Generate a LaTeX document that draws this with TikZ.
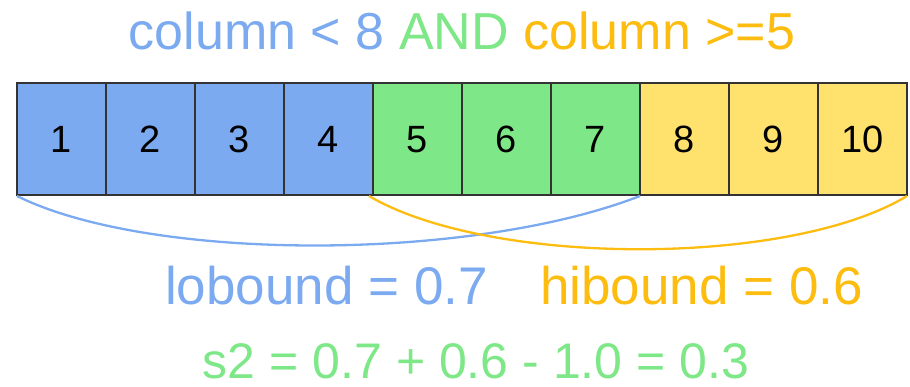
\documentclass[tikz,border=0pt]{standalone}
\usepackage{fontspec}
\setmainfont{Liberation Sans}
\definecolor{cblue}{HTML}{7BAAF0}
\definecolor{cgreen}{HTML}{7EE787}
\definecolor{cyellow}{HTML}{FFE26E}
\definecolor{corange}{HTML}{FCBC10}
\definecolor{cedge}{HTML}{333333}
\tikzset{
  cell/.style={draw=cedge, line width=1.3pt, minimum width=89pt, minimum height=112pt,
               inner sep=0pt, outer sep=0pt, anchor=north west,
               font=\fontsize{37}{37}\selectfont},
  label/.style={inner sep=0pt, anchor=base},
  span/.style={line width=2.3pt},
}
\begin{document}
\begin{tikzpicture}[x=1pt, y=-1pt]
  \useasboundingbox (0,0) rectangle (910,387);

  % heading
  \node[label, font=\fontsize{52}{52}\selectfont] (title) at (462,50)
    {\textcolor{cblue}{column < 8} \textcolor{cgreen}{AND} \textcolor{corange}{column >=5}};

  % row of cells
  \foreach \i/\c in {1/cblue,2/cblue,3/cblue,4/cblue,5/cgreen,6/cgreen,7/cgreen,8/cyellow,9/cyellow,10/cyellow}{
    \node[cell, fill=\c] (c\i) at ({17+89*(\i-1)},83) {};
    \node[label, font=\fontsize{38}{38}\selectfont] (n\i) at ([yshift=-14pt]c\i.center) {\i};
  }

  % spans under the cells
  \coordinate (loA) at ([yshift=-1pt]c1.south west);
  \coordinate (loB) at ([yshift=-1pt]c7.south east);
  \coordinate (hiA) at ([xshift=-4pt,yshift=-1pt]c4.south east);
  \coordinate (hiB) at ([yshift=-1pt]c10.south east);
  \draw[span, cblue] (loA) .. controls (150,262) and (470,262) .. (loB);
  \draw[span, corange] (hiA) .. controls (490,267) and (790,267) .. (hiB);

  % bounds
  \node[label, anchor=base west, font=\fontsize{53}{53}\selectfont, text=cblue] (lo) at (165,305) {lobound = 0.7};
  \node[label, anchor=base west, font=\fontsize{53}{53}\selectfont, text=corange] (hi) at (540,305) {hibound = 0.6};

  % result
  \node[label, font=\fontsize{50}{50}\selectfont, text=cgreen] (s2) at (476,378) {s2 = 0.7 + 0.6 - 1.0 = 0.3};
\end{tikzpicture}
\end{document}
